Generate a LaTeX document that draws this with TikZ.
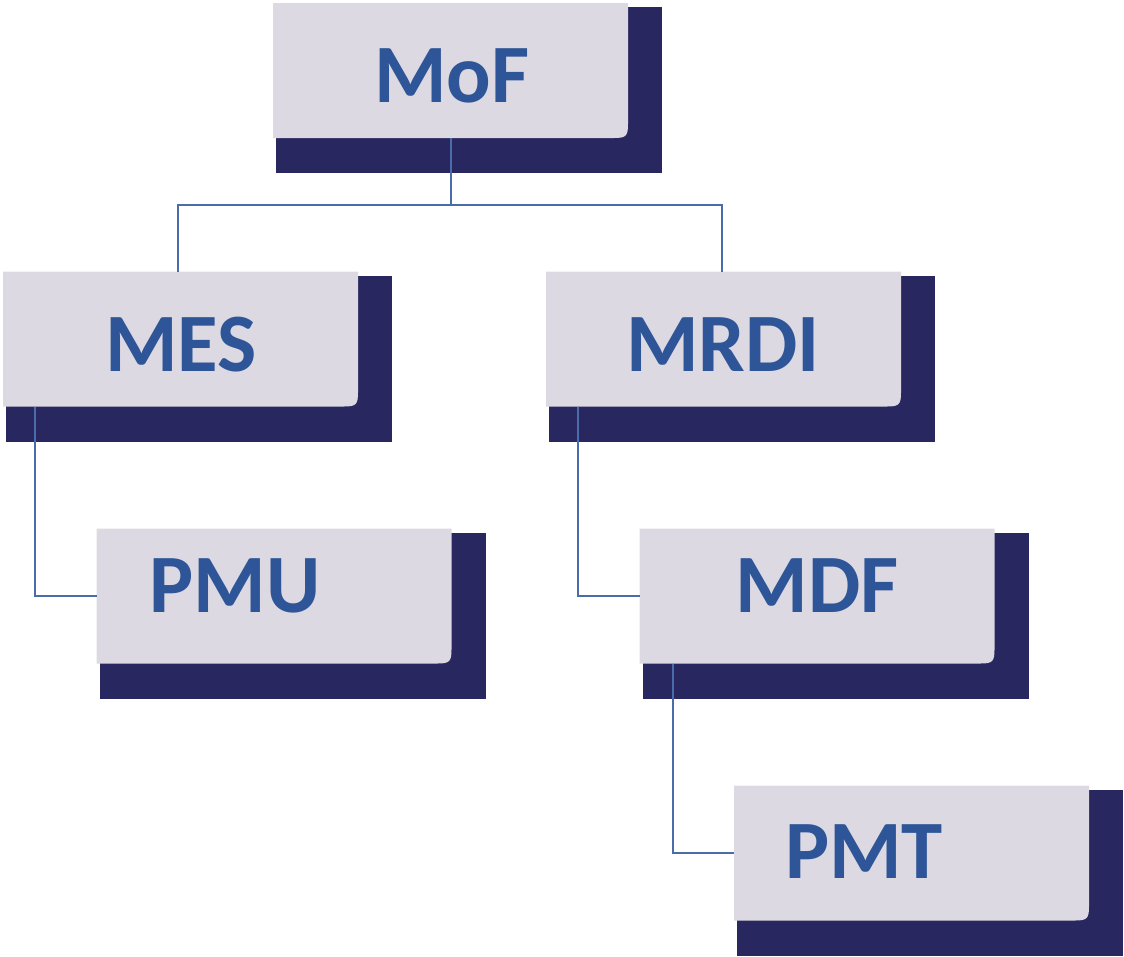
\documentclass[tikz,border=0pt]{standalone}
\usepackage{fontspec}
\setmainfont{Carlito}
\usetikzlibrary{calc}
\definecolor{boxfill}{HTML}{DCD9E3}
\definecolor{shadowc}{HTML}{28275F}
\definecolor{txtc}{HTML}{2E5597}
\definecolor{linec}{HTML}{4A6CAB}
\tikzset{
  orgbox/.style={minimum width=355pt, minimum height=135pt, inner sep=0pt, outer sep=0pt},
  lbl/.style={font=\fontsize{83}{83}\selectfont\bfseries, text=txtc, anchor=base, inner sep=0pt},
  conn/.style={draw=linec, line width=2pt}
}
\newcommand\myorgbox[3]{%
  \node[orgbox] (#1) at (#2,#3) {};
  \fill[shadowc] ($(#1.north west)+(3,4)$) rectangle ($(#1.south east)+(34,35)$);
  \fill[boxfill] (#1.north west) -- (#1.north east) -- ([yshift=14pt]#1.south east)
     .. controls ([yshift=2pt]#1.south east) and ([xshift=-2pt]#1.south east) .. ([xshift=-14pt]#1.south east)
     -- (#1.south west) -- cycle;
}
\begin{document}
\begin{tikzpicture}[x=1pt,y=-1pt]
\useasboundingbox (0,0) rectangle (1124,956);
\myorgbox{mof}{450.5}{70.5}
\myorgbox{mes}{180.5}{339}
\myorgbox{mrdi}{723.5}{339}
\myorgbox{pmu}{274}{596}
\myorgbox{mdf}{817}{596}
\myorgbox{pmt}{911.5}{853}
\node[lbl] (mof-t) at (452,102) {MoF};
\node[lbl] (mes-t) at (181,371) {MES};
\node[lbl] (mrdi-t) at (723,371) {MRDI};
\node[lbl] (pmu-t) at (235,612) {PMU};
\node[lbl] (mdf-t) at (817,612) {MDF};
\node[lbl] (pmt-t) at (864,878) {PMT};
\draw[conn] (mof.south) -- ++(0,67) coordinate (j);
\draw[conn] ([xshift=-2.5pt]mes.north) |- (j) -| ([xshift=-1.5pt]mrdi.north);
\draw[conn] ([xshift=32pt]mes.south west) |- (pmu.west);
\draw[conn] ([xshift=32pt]mrdi.south west) |- (mdf.west);
\draw[conn] ([xshift=33pt]mdf.south west) |- (pmt.west);
\end{tikzpicture}
\end{document}
